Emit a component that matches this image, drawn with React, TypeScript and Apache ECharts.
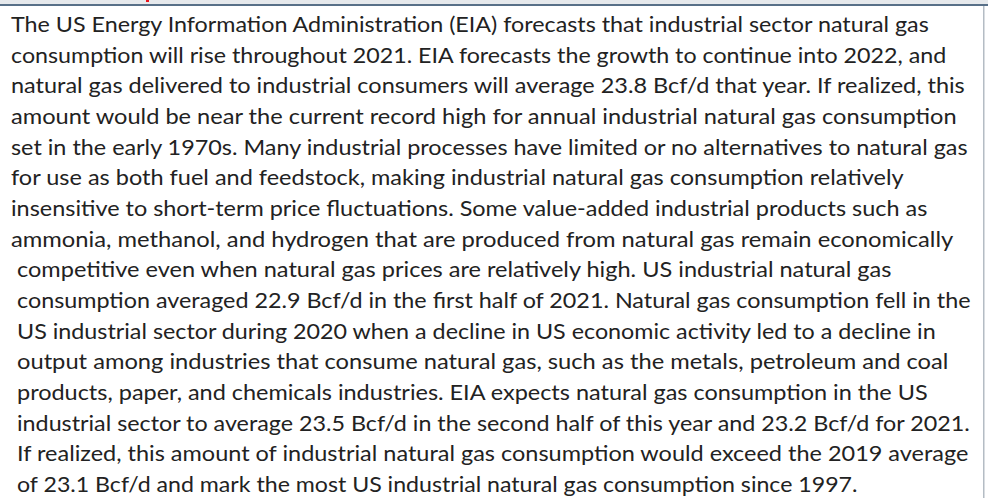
import React, { useEffect, useRef } from "react";
import * as echarts from "echarts";

const lines: string[] = [
  "The US Energy Information Administration (EIA) forecasts that industrial sector natural gas",
  "consumption will rise throughout 2021. EIA forecasts the growth to continue into 2022, and",
  "natural gas delivered to industrial consumers will average 23.8 Bcf/d that year. If realized, this",
  "amount would be near the current record high for annual industrial natural gas consumption",
  "set in the early 1970s. Many industrial processes have limited or no alternatives to natural gas",
  "for use as both fuel and feedstock, making industrial natural gas consumption relatively",
  "insensitive to short-term price fluctuations. Some value-added industrial products such as",
  "ammonia, methanol, and hydrogen that are produced from natural gas remain economically",
  "competitive even when natural gas prices are relatively high. US industrial natural gas",
  "consumption averaged 22.9 Bcf/d in the first half of 2021. Natural gas consumption fell in the",
  "US industrial sector during 2020 when a decline in US economic activity led to a decline in",
  "output among industries that consume natural gas, such as the metals, petroleum and coal",
  "products, paper, and chemicals industries. EIA expects natural gas consumption in the US",
  "industrial sector to average 23.5 Bcf/d in the second half of this year and 23.2 Bcf/d for 2021.",
  "If realized, this amount of industrial natural gas consumption would exceed the 2019 average",
  "of 23.1 Bcf/d and mark the most US industrial natural gas consumption since 1997.",
];

// approximate left start and right end of each line
const lineLeft: number[] = [11, 11, 11, 11, 11, 11, 11, 11, 17, 17, 17, 17, 17, 17, 17, 17];
const lineRight: number[] = [931, 948, 967, 959, 970, 904, 929, 954, 893, 972, 938, 949, 929, 973, 970, 858];

const FONT = "Lato";
const FS = 21.5;

export default function App() {
  const ref = useRef<HTMLDivElement>(null);
  useEffect(() => {
    if (!ref.current) return;
    const chart = echarts.init(ref.current, null, { renderer: "svg" });
    const canvas = document.createElement("canvas");
    const ctx = canvas.getContext("2d")!;
    ctx.font = `${FS}px ${FONT}`;
    const elements: any[] = [
      { type: "rect", shape: { x: 0, y: 0, width: 988, height: 4 }, style: { fill: "#e6e9ec" }, silent: true },
      { type: "rect", shape: { x: 146, y: 0, width: 3, height: 2 }, style: { fill: "#e8141c" }, silent: true },
      { type: "rect", shape: { x: 0, y: 4, width: 988, height: 2 }, style: { fill: "#587088" }, silent: true },
      { type: "rect", shape: { x: 983, y: 6, width: 1.5, height: 492 }, style: { fill: "#b4bcc4" }, silent: true },
    ];
    lines.forEach((t, i) => {
      const w = ctx.measureText(t).width || 1;
      const target = lineRight[i] - lineLeft[i];
      elements.push({
        type: "text",
        x: lineLeft[i],
        y: 24 + i * 30.67,
        scaleX: target / w,
        silent: true,
        style: {
          text: t,
          font: `${FS}px ${FONT}`,
          fill: "#222222",
          align: "left",
          verticalAlign: "middle",
        },
      });
    });
    chart.setOption({
      animation: false,
      backgroundColor: "#ffffff",
      graphic: { elements },
    });
    return () => chart.dispose();
  }, []);
  return (
    <div
      ref={ref}
      style={{ position: "fixed", left: 0, top: 0, width: 988, height: 498 }}
    />
  );
}
